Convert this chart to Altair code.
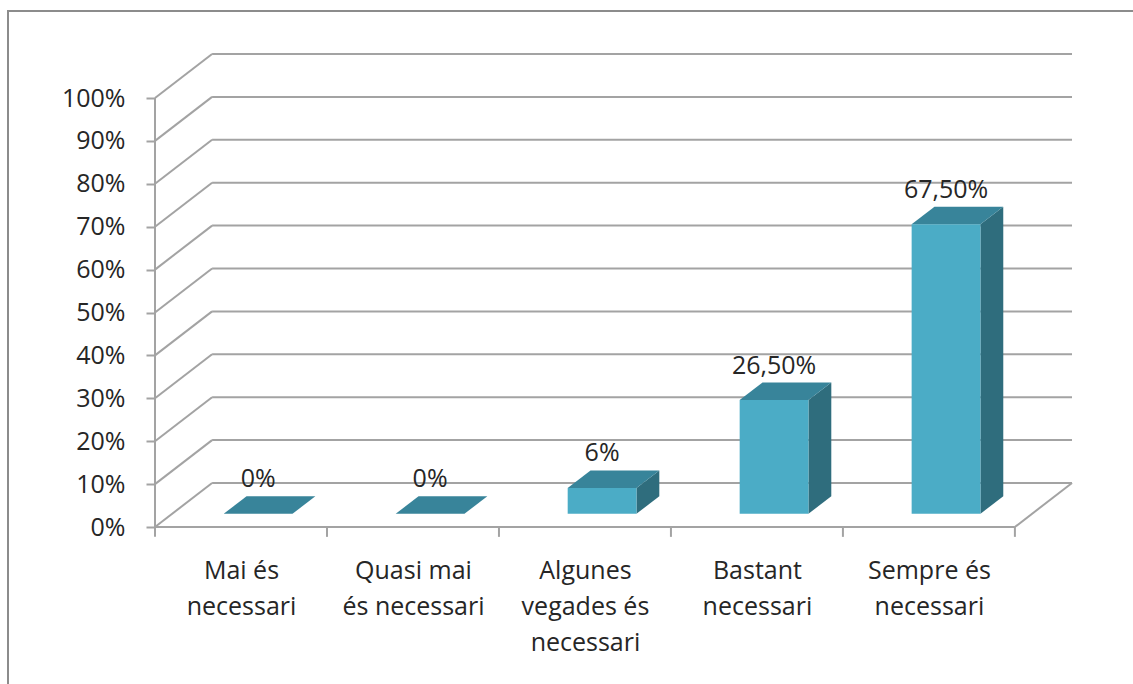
import json
import altair as alt
import pandas as pd

# ---------------- data ----------------
categories = [
    "Mai és\nnecessari",
    "Quasi mai\nés necessari",
    "Algunes\nvegades és\nnecessari",
    "Bastant\nnecessari",
    "Sempre és\nnecessari",
]
values = [0, 0, 6, 26.5, 67.5]
value_labels = ["0%", "0%", "6%", "26,50%", "67,50%"]
y_ticks = [0, 10, 20, 30, 40, 50, 60, 70, 80, 90, 100]

# ---------------- pseudo-3D geometry (style constants) ----------------
N = len(categories)
DX = 0.332      # depth shift of the back wall, in category units
DY = 10.26      # depth shift of the back wall, in percent units
BAR_W = 0.40    # bar width, category units
BAR_FRONT = 0.3 # bar front face position, fraction of depth
BAR_DEPTH = 0.4 # bar depth, fraction of depth
TICK = 2.3      # category tick length, percent units
YMAX = max(y_ticks)

GRID = "#A3A3A3"
FRONT = "#4BACC6"
TOP = "#38849A"
SIDE = "#2F6D7D"
TEXT = "#262626"
FONT = "Open Sans"

# gridlines / walls / floor segments
segs = []
for v in y_ticks:
    segs.append(dict(x=0, y=v, x2=DX, y2=v + DY))
    segs.append(dict(x=DX, y=v + DY, x2=N + DX, y2=v + DY))
segs.append(dict(x=0, y=0, x2=0, y2=YMAX))
segs.append(dict(x=0, y=0, x2=N, y2=0))
segs.append(dict(x=N, y=0, x2=N + DX, y2=DY))
for b in range(N + 1):
    segs.append(dict(x=b, y=0, x2=b, y2=-TICK))
seg_df = pd.DataFrame(segs)

# bar faces
front_rows, side_rows, top_rows, lab_rows = [], [], [], []
for i, (c, v, lab) in enumerate(zip(categories, values, value_labels)):
    xc = i + 0.5 + BAR_FRONT * DX
    xl, xr = xc - BAR_W / 2, xc + BAR_W / 2
    yb = BAR_FRONT * DY
    yt = v + yb
    ddx, ddy = BAR_DEPTH * DX, BAR_DEPTH * DY
    front_rows.append(dict(cat=c, x=xl, x2=xr, y=yb, y2=yt))
    side_rows += [
        dict(cat=c, x=xr, y=yt, y2=yb),
        dict(cat=c, x=xr + ddx, y=yt + ddy, y2=yb + ddy),
    ]
    top_rows += [
        dict(cat=c, y=yt, x=xl, x2=xr),
        dict(cat=c, y=yt + ddy, x=xl + ddx, x2=xr + ddx),
    ]
    lab_rows.append(dict(cat=c, x=xc, y=yt + ddy, label=lab))
front_df = pd.DataFrame(front_rows)
side_df = pd.DataFrame(side_rows)
top_df = pd.DataFrame(top_rows)
lab_df = pd.DataFrame(lab_rows)

# ---------------- scales / axes ----------------
cat_lines = json.dumps([c.replace("\n", "|") for c in categories], ensure_ascii=False)
x_axis = alt.Axis(
    values=[i + 0.5 for i in range(N)],
    labelExpr=f"split({cat_lines}[floor(datum.value)], '|')",
    ticks=False, tickSize=0, domain=False, grid=False, title=None,
    labelFont=FONT, labelFontSize=25, labelColor=TEXT,
    labelLineHeight=36, labelPadding=31, labelBaseline="top",
    labelOverlap=False, labelFlush=False, labelBound=False,
)
y_axis = alt.Axis(
    values=y_ticks, labelExpr="datum.value + '%'",
    domain=False, grid=False, title=None,
    ticks=True, tickSize=9, tickColor=GRID, tickWidth=2,
    labelFont=FONT, labelFontSize=25, labelColor=TEXT, labelPadding=21,
    labelOverlap=False, labelFlush=False, labelBound=False,
)
xs = alt.Scale(domain=[0, N + DX], nice=False, zero=False)
ys = alt.Scale(domain=[0, YMAX + DY], nice=False, zero=False)


def X(f="x"):
    return alt.X(f"{f}:Q", scale=xs, axis=x_axis)


def Y(f="y"):
    return alt.Y(f"{f}:Q", scale=ys, axis=y_axis)


grid = alt.Chart(seg_df).mark_rule(color=GRID, strokeWidth=2).encode(
    x=X(), x2="x2:Q", y=Y(), y2="y2:Q"
)
front = alt.Chart(front_df).mark_rect(color=FRONT).encode(
    x=X(), x2="x2:Q", y=Y(), y2="y2:Q"
)
side = alt.Chart(side_df).mark_area(color=SIDE, orient="vertical").encode(
    x=X(), y=Y(), y2="y2:Q", detail="cat:N"
)
top = alt.Chart(top_df).mark_area(color=TOP, orient="horizontal").encode(
    y=Y(), x=X(), x2="x2:Q", detail="cat:N"
)
labels = alt.Chart(lab_df).mark_text(
    font=FONT, fontSize=25, color=TEXT, baseline="bottom", align="center", dy=-4
).encode(x=X(), y=Y(), text="label:N")

frame = alt.Chart(pd.DataFrame({"k": [0]})).mark_rect(
    fill=None, stroke="#8C8C8C", strokeWidth=2
).encode(
    x=alt.value(-147), y=alt.value(-43), x2=alt.value(1100), y2=alt.value(700)
)

chart = (
    alt.layer(frame, grid, side, top, front, labels)
    .properties(
        width=917, height=473,
        padding={"left": 155, "top": 54, "right": 61, "bottom": 157},
        autosize=alt.AutoSizeParams(type="none"),
        background="white",
    )
    .configure_view(strokeWidth=0)
)

chart.save("out.html", embed_options={"renderer": "svg", "actions": False})
